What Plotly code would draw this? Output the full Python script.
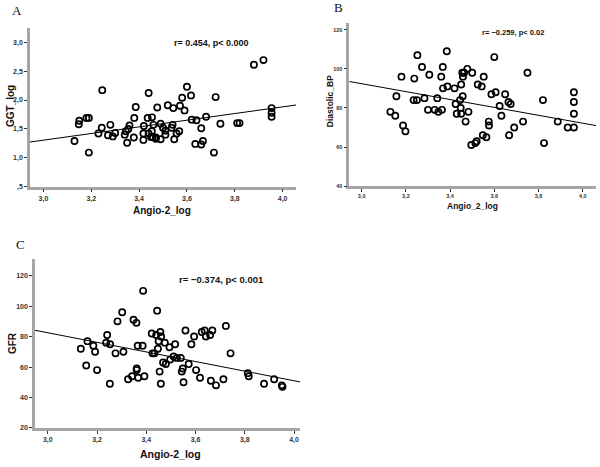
import plotly.graph_objects as go

# ---------------- Panel A data ----------------
a_x = [3.13, 3.148, 3.15, 3.18, 3.19, 3.19, 3.246, 3.244, 3.23, 3.27, 3.28, 3.29, 3.30,
       3.34, 3.345, 3.355, 3.36, 3.35, 3.378, 3.38, 3.386, 3.42, 3.418, 3.418, 3.436,
       3.44, 3.44, 3.45, 3.454, 3.453, 3.457, 3.46, 3.47, 3.476, 3.47, 3.49, 3.49, 3.50,
       3.51, 3.51, 3.52, 3.536, 3.54, 3.543, 3.547, 3.557, 3.568, 3.571, 3.58, 3.59,
       3.60, 3.617, 3.62, 3.64, 3.635, 3.66, 3.66, 3.667, 3.68, 3.713, 3.72, 3.74,
       3.81, 3.82, 3.88, 3.92, 3.954, 3.954, 3.954]
a_y = [1.29, 1.58, 1.64, 1.69, 1.69, 1.09, 2.17, 1.52, 1.42, 1.39, 1.57, 1.37, 1.43,
       1.40, 1.46, 1.50, 1.56, 1.26, 1.35, 1.69, 1.88, 1.55, 1.42, 1.31, 1.69,
       2.12, 1.42, 1.36, 1.70, 1.46, 1.36, 1.57, 1.35, 1.87, 1.33, 1.32, 1.59, 1.52,
       1.47, 1.40, 1.91, 1.52, 1.57, 1.86, 1.32, 1.42, 1.46, 1.90, 2.04, 1.82,
       2.23, 2.08, 1.66, 1.65, 1.24, 1.23, 1.51, 1.29, 1.71, 1.09, 2.05, 1.59,
       1.60, 1.60, 2.61, 2.69, 1.86, 1.78, 1.71]
a_fit = [-0.423, 0.576]  # intercept, slope

# ---------------- Panel B data ----------------
b_x = [3.13, 3.152, 3.157, 3.18, 3.187, 3.198, 3.238, 3.235, 3.25, 3.252, 3.273, 3.284,
       3.30, 3.306, 3.33, 3.342, 3.347, 3.36, 3.363, 3.367, 3.368, 3.385, 3.388, 3.42,
       3.425, 3.43, 3.445, 3.448, 3.45, 3.45, 3.455, 3.458, 3.457, 3.463, 3.47, 3.478,
       3.483, 3.496, 3.50, 3.514, 3.52, 3.525, 3.543, 3.548, 3.552, 3.564, 3.575, 3.576,
       3.587, 3.60, 3.606, 3.624, 3.632, 3.649, 3.664, 3.667, 3.674, 3.69, 3.73, 3.75,
       3.82, 3.825, 3.887, 3.932, 3.96, 3.96, 3.96, 3.96]
b_y = [78, 76, 86, 96, 71, 68, 95, 84, 84, 107, 101, 85,
       79, 97, 79, 85, 78, 96, 79, 101, 90, 109, 91, 90,
       82, 77, 84, 80, 92, 77, 98, 96, 86, 98, 73, 100,
       78, 61, 98, 62, 63, 92, 91, 66, 96, 65, 73, 71,
       87, 106, 88, 81, 76, 87, 83, 66, 82, 70, 73, 98,
       84, 62, 73, 70, 88, 83, 77, 70]
b_fit = [152.98, -20.2]

# ---------------- Panel C data ----------------
c_x = [3.134, 3.156, 3.161, 3.185, 3.192, 3.20, 3.237, 3.241, 3.253, 3.252, 3.275, 3.283,
       3.302, 3.307, 3.326, 3.342, 3.348, 3.36, 3.361, 3.361, 3.365, 3.367, 3.385, 3.387,
       3.392, 3.422, 3.425, 3.433, 3.44, 3.444, 3.447, 3.45, 3.454, 3.457, 3.46, 3.459,
       3.468, 3.475, 3.479, 3.494, 3.497, 3.517, 3.511, 3.524, 3.54, 3.544, 3.548, 3.551,
       3.559, 3.572, 3.583, 3.594, 3.602, 3.618, 3.625, 3.637, 3.642, 3.659, 3.668, 3.662,
       3.683, 3.713, 3.723, 3.742, 3.812, 3.816, 3.878, 3.919, 3.95, 3.953]
c_y = [72, 61, 77, 74, 70, 58, 76, 81, 75, 49, 69, 90,
       96, 70, 52, 54, 91, 89, 59, 58, 74, 53, 74, 110,
       54, 82, 69, 69, 81, 97, 72, 77, 57, 83, 80, 49,
       63, 76, 62, 73, 65, 75, 67, 66, 66, 57, 59, 50,
       84, 62, 75, 80, 58, 53, 83, 84, 80, 81, 84, 51,
       48, 52, 87, 69, 56, 54, 49, 52, 48, 47]
c_fit = [177.0, -31.5]

x_ticks = [3.0, 3.2, 3.4, 3.6, 3.8, 4.0]
x_ticktext = ["3,0", "3,2", "3,4", "3,6", "3,8", "4,0"]
a_yticks = [0.5, 1.0, 1.5, 2.0, 2.5, 3.0]
a_yticktext = [",5", "1,0", "1,5", "2,0", "2,5", "3,0"]
b_yticks = [40, 60, 80, 100, 120]
c_yticks = [20, 40, 60, 80, 100, 120]

W, H = 600, 467

def dom_x(p0, p1):
    return [p0 / W, p1 / W]

def dom_y(top, bottom):
    return [1 - bottom / H, 1 - top / H]

def bold(labels):
    return ["<b>%s</b>" % s for s in labels]

fig = go.Figure()

panels = [
    dict(x=a_x, y=a_y, fit=a_fit, xr=[2.944, 4.056], yr=[0.5, 3.25], xd=dom_x(30, 296), yd=dom_y(28, 188.3),
         yt=a_yticks, ytt=a_yticktext, tickfs=7),
    dict(x=b_x, y=b_y, fit=b_fit, xr=[2.944, 4.06], yr=[40, 123.7], xd=dom_x(349.3, 596), yd=dom_y(22.7, 187.7),
         yt=b_yticks, ytt=[str(v) for v in b_yticks], tickfs=5.5),
    dict(x=c_x, y=c_y, fit=c_fit, xr=[2.948, 4.024], yr=[20, 130.6], xd=dom_x(35, 300), yd=dom_y(261.7, 431.7),
         yt=c_yticks, ytt=[str(v) for v in c_yticks], tickfs=7),
]

for i, p in enumerate(panels):
    n = "" if i == 0 else str(i + 1)
    xa, ya = "x" + n, "y" + n
    fig.add_trace(go.Scatter(
        x=p["x"], y=p["y"], mode="markers", xaxis=xa, yaxis=ya,
        marker=dict(symbol="circle-open", size=6.2, color="black", line=dict(width=1.7, color="black")),
        hoverinfo="skip", showlegend=False))
    x0, x1 = p["xr"]
    b0, b1 = p["fit"]
    fig.add_trace(go.Scatter(
        x=[x0, x1], y=[b0 + b1 * x0, b0 + b1 * x1], mode="lines", xaxis=xa, yaxis=ya,
        line=dict(color="black", width=1), hoverinfo="skip", showlegend=False))
    axis_common = dict(showgrid=False, zeroline=False, showline=True, linecolor="#a6a6a6", linewidth=2.5,
                       ticks="outside", ticklen=3, tickwidth=1, tickcolor="#333",
                       tickfont=dict(family="Liberation Sans", size=p["tickfs"], color="#333"))
    fig.layout["xaxis" + n] = dict(domain=p["xd"], range=p["xr"], anchor=ya, tickvals=x_ticks,
                                   ticktext=bold(x_ticktext), **axis_common)
    fig.layout["yaxis" + n] = dict(domain=p["yd"], range=p["yr"], anchor=xa, tickvals=p["yt"],
                                   ticktext=bold(p["ytt"]), **axis_common)

def txt(x, y, s, size, family="Liberation Sans", bold=True, angle=0):
    fig.add_annotation(x=x / W, y=1 - y / H, xref="paper", yref="paper", text=("<b>%s</b>" % s) if bold else s,
                       showarrow=False, textangle=angle, xanchor="center", yanchor="middle",
                       font=dict(family=family, size=size, color="#111"))

# panel letters
txt(17, 11, "A", 13, family="Liberation Serif", bold=False)
txt(338, 8, "B", 13, family="Liberation Serif", bold=False)
txt(20, 247, "C", 13, family="Liberation Serif", bold=False)

# axis titles
txt(162, 212, "Angio-2_log", 10)
txt(10, 107, "GGT_log", 10, angle=-90)
txt(472, 208, "Angio_2_log", 8.5)
txt(330, 102, "Diastolic_BP", 8.5, angle=-90)
txt(170, 458, "Angio-2_log", 10.5)
txt(12, 346, "GFR", 10, angle=-90)

# correlation annotations
txt(211.7, 43.3, "r= 0.454, p< 0.000", 9)
txt(513, 32.7, "r= \u22120.259, p< 0.02", 7.5)
txt(221, 281.7, "r= \u22120.374, p< 0.001", 9.5)

fig.update_layout(width=W, height=H, margin=dict(l=0, r=0, t=0, b=0),
                  plot_bgcolor="white", paper_bgcolor="white")

fig.write_html("out.html", config={"displayModeBar": False},
               post_script="document.body.style.margin='0';document.body.style.overflow='hidden';")
